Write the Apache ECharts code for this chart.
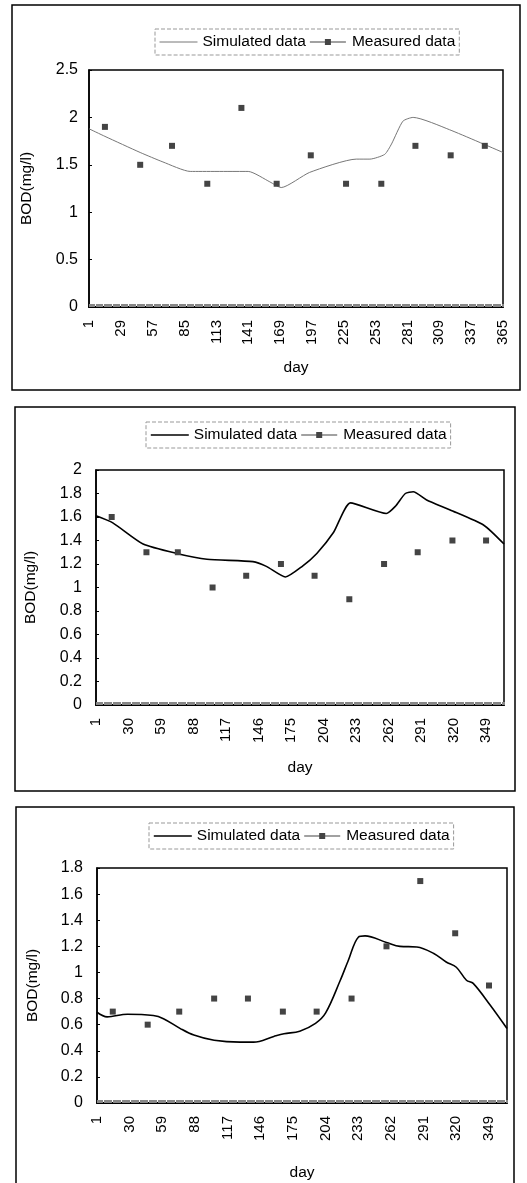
<!DOCTYPE html>
<html>
<head>
<meta charset="utf-8">
<script src="https://cdn.jsdelivr.net/npm/echarts@6/dist/echarts.min.js"></script>
<style>
html,body{margin:0;padding:0;background:#fff;}
#main{width:527px;height:1183px;}
</style>
</head>
<body>
<div id="main"></div>
<script>
// day categories 1..365 (x axis)
var days = [];
for (var d = 1; d <= 365; d++) days.push(String(d));

// measured samples (same days in each panel)
var measuredDays = [15, 46, 74, 105, 135, 166, 196, 227, 258, 288, 319, 349];
var measured1 = [1.9, 1.5, 1.7, 1.3, 2.1, 1.3, 1.6, 1.3, 1.3, 1.7, 1.6, 1.7];
var measured2 = [1.6, 1.3, 1.3, 1.0, 1.1, 1.2, 1.1, 0.9, 1.2, 1.3, 1.4, 1.4];
var measured3 = [0.7, 0.6, 0.7, 0.8, 0.8, 0.7, 0.7, 0.8, 1.2, 1.7, 1.3, 0.9];

// simulated curves
var simDays1 = [1, 15, 46, 66, 90, 141, 160, 170, 195, 236, 248, 261, 267, 277, 286, 318, 365];
var simVals1 = [1.88, 1.80, 1.63, 1.53, 1.43, 1.43, 1.32, 1.26, 1.42, 1.56, 1.56, 1.61, 1.72, 1.96, 2.0, 1.87, 1.63];
var simDays2 = [1, 16, 43, 73, 100, 141, 153, 170, 185, 198, 213, 228, 260, 268, 277, 284, 296, 317, 347, 365];
var simVals2 = [1.61, 1.55, 1.37, 1.29, 1.24, 1.22, 1.18, 1.09, 1.18, 1.29, 1.47, 1.72, 1.63, 1.69, 1.80, 1.815, 1.745, 1.66, 1.53, 1.37];
var simDays3 = [1, 10, 28, 51, 60, 75, 87, 105, 128, 140, 158, 167, 181, 195, 204, 217, 224, 233, 239, 258, 270, 285, 300, 311, 320, 329, 335, 350, 365];
var simVals3 = [0.695, 0.66, 0.68, 0.67, 0.646, 0.57, 0.52, 0.48, 0.466, 0.466, 0.51, 0.53, 0.55, 0.61, 0.69, 0.94, 1.09, 1.27, 1.28, 1.23, 1.20, 1.195, 1.145, 1.08, 1.04, 0.94, 0.916, 0.75, 0.57];

// y axis ranges
var yMax = [2.5, 2, 1.8];
var yStep = [0.5, 0.2, 0.2];

var FONT = 'Liberation Sans, Arial, sans-serif';
// legend icon: thin line with a small square in the middle
var MEASURED_ICON = 'path://M0,2.5L15,2.5L15,0L21,0L21,2.5L36,2.5L36,3.5L21,3.5L21,6L15,6L15,3.5L0,3.5Z';

function pairs(xs, ys){
	return xs.map(function(x, i){ return [String(x), ys[i]]; });
}

// panel layout: grid, legend, outer box
var panels = [
	{grid:{left:89, top:70, width:414, height:237}, legend:{left:155, top:29}, box:[12, 5, 508, 385],
	 labelEvery:27, yGap:11, nameGap:54, xNameGap:53, simColor:'#777', simWidth:1, smooth:0.2},
	{grid:{left:96, top:470, width:408, height:235}, legend:{left:146, top:422}, box:[15, 407, 500, 384],
	 labelEvery:28, yGap:14, nameGap:57, xNameGap:55, simColor:'#000', simWidth:1.6, smooth:0.2},
	{grid:{left:97, top:868, width:410, height:235}, legend:{left:149, top:823}, box:[16, 807, 498, 420],
	 labelEvery:28, yGap:14, nameGap:56, xNameGap:62, simColor:'#000', simWidth:1.6, smooth:0.35}
];
var sims = [pairs(simDays1, simVals1), pairs(simDays2, simVals2), pairs(simDays3, simVals3)];
var meas = [pairs(measuredDays, measured1), pairs(measuredDays, measured2), pairs(measuredDays, measured3)];

var grids = [], xAxes = [], yAxes = [], series = [], legends = [], graphics = [];

panels.forEach(function(p, i){
	grids.push({
		left:p.grid.left, top:p.grid.top, width:p.grid.width, height:p.grid.height,
		show:true, borderColor:'#000', borderWidth:1.5, backgroundColor:'transparent'
	});
	xAxes.push({
		gridIndex:i, type:'category', data:days, boundaryGap:false,
		name:'day', nameLocation:'middle', nameGap:p.xNameGap,
		nameTextStyle:{fontSize:15.5, color:'#000', fontFamily:FONT},
		axisLine:{lineStyle:{color:'#000', width:2}},
		axisTick:{interval:0, inside:true, length:3, lineStyle:{color:'#888', width:1}},
		axisLabel:{interval:p.labelEvery, rotate:90, margin:13, fontSize:15, color:'#000', fontFamily:FONT}
	});
	yAxes.push({
		gridIndex:i, type:'value', min:0, max:yMax[i], interval:yStep[i],
		name:'BOD(mg/l)', nameLocation:'middle', nameGap:p.nameGap,
		nameTextStyle:{fontSize:15.5, color:'#000', fontFamily:FONT},
		axisLine:{show:true, lineStyle:{color:'#000', width:1.5}},
		axisTick:{show:true, inside:true, length:3, lineStyle:{color:'#000'}},
		splitLine:{show:false},
		axisLabel:{margin:p.yGap, fontSize:16, color:'#000', fontFamily:FONT}
	});
	series.push({
		name:'Simulated data', type:'line', xAxisIndex:i, yAxisIndex:i,
		data:sims[i], symbol:'none', smooth:p.smooth,
		itemStyle:{color:p.simColor},
		lineStyle:{color:p.simColor, width:p.simWidth}, z:2
	});
	series.push({
		name:'Measured data', type:'line', xAxisIndex:i, yAxisIndex:i,
		data:meas[i], symbol:'rect', symbolSize:6, showAllSymbol:true,
		itemStyle:{color:'#444'}, lineStyle:{opacity:0}, z:3
	});
	legends.push({
		left:p.legend.left, top:p.legend.top, orient:'horizontal',
		itemWidth:38, itemHeight:6, itemGap:4, padding:[5, 4],
		borderColor:'#999', borderWidth:1, borderType:'dashed',
		textStyle:{fontSize:15.5, color:'#000', fontFamily:FONT},
		selectedMode:false,
		data:[
			{name:'Simulated data', itemStyle:{opacity:0}, lineStyle:{color:p.simColor, width:p.simWidth, opacity:1}},
			{name:'Measured data', icon:MEASURED_ICON, itemStyle:{color:'#444', opacity:1}}
		]
	});
	graphics.push({
		type:'rect', silent:true, z:-1,
		shape:{x:p.box[0], y:p.box[1], width:p.box[2], height:p.box[3]},
		style:{fill:'none', stroke:'#000', lineWidth:1.5}
	});
});

var chart = echarts.init(document.getElementById('main'));
chart.setOption({
	animation:false,
	backgroundColor:'#fff',
	textStyle:{fontFamily:FONT},
	grid:grids,
	xAxis:xAxes,
	yAxis:yAxes,
	legend:legends,
	graphic:graphics,
	series:series
});
</script>
</body>
</html>
